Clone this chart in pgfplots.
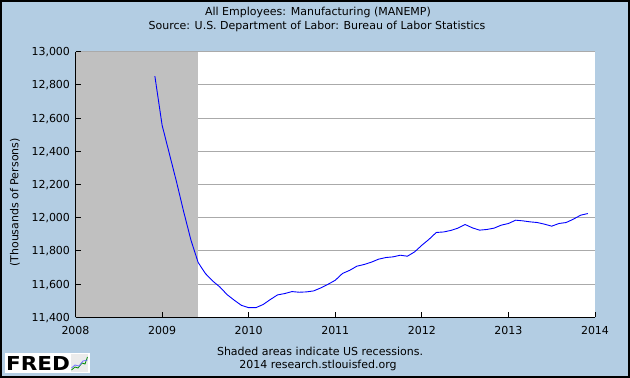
\documentclass[border=0pt]{standalone}
\usepackage{pgfplots}
\pgfplotsset{compat=1.18}
\usepackage{fontspec}
\setmainfont{DejaVu Sans}
\definecolor{bgblue}{RGB}{179,205,227}
\definecolor{recgray}{RGB}{192,192,192}
\definecolor{gridgray}{RGB}{170,170,170}
\pgfdeclarelayer{bgfred}
\pgfsetlayers{bgfred,main}
\pgfplotsset{
  layers/fredlayers/.define layer set={
    bgfred,axis background,axis grid,pre main,main,axis ticks,axis lines,axis tick labels,axis descriptions,axis foreground
  }{
    grid style={/pgfplots/on layer=axis grid},
    tick style={/pgfplots/on layer=axis ticks},
    axis line style={/pgfplots/on layer=axis lines},
    label style={/pgfplots/on layer=axis descriptions},
    legend style={/pgfplots/on layer=axis descriptions},
    title style={/pgfplots/on layer=axis descriptions},
    colorbar style={/pgfplots/on layer=axis descriptions},
    ticklabel style={/pgfplots/on layer=axis tick labels},
    axis background@ style={/pgfplots/on layer=axis background},
    3d box foreground style={/pgfplots/on layer=axis foreground},
  },
}
\begin{document}
\begin{tikzpicture}[every node/.style={font=\fontsize{11bp}{13bp}\selectfont}]
\begin{pgfonlayer}{bgfred}
\fill[bgblue] (0,0) rectangle (630bp,378bp);
\end{pgfonlayer}
\begin{axis}[
  set layers=fredlayers,
  at={(75.5bp,60.7bp)}, anchor=south west,
  scale only axis, width=519.5bp, height=265.6bp,
  xmin=0, xmax=72, ymin=11400, ymax=13000,
  axis background/.style={fill=white},
  axis x line*=bottom, axis y line*=left,
  axis line style={black, line width=1bp},
  xtick={0,12,24,36,48,60,72},
  xticklabels={2008,2009,2010,2011,2012,2013,2014},
  ytick={11400,11600,11800,12000,12200,12400,12600,12800,13000},
  scaled y ticks=false,
  /pgf/number format/1000 sep={,},
  /pgf/number format/assume math mode=true,
  xticklabel style={inner sep=0pt, anchor=north, text depth=0pt, yshift=-9.3bp},
  yticklabel style={inner sep=0pt, anchor=east, text depth=0pt, xshift=-5.3bp},
  tick label style={font=\fontsize{11bp}{13bp}\selectfont},
  tick align=inside, major tick length=5bp,
  tick style={black, line width=1bp},
  ymajorgrids, grid style={gridgray, line width=1bp},
]
\addplot[fill=recgray, draw=none] coordinates {(0,11400) (17,11400) (17,13000) (0,13000)} -- cycle;
\addplot[blue, line width=0.9bp, mark=none] table[x=m, y=v] {
m v
11 12853
12 12558
13 12387
14 12216
15 12035
16 11865
17 11730
18 11664
19 11619
20 11583
21 11537
22 11503
23 11472
24 11458
25 11458
26 11477
27 11507
28 11535
29 11543
30 11555
31 11551
32 11553
33 11559
34 11577
35 11599
36 11623
37 11664
38 11683
39 11708
40 11718
41 11732
42 11750
43 11760
44 11764
45 11774
46 11768
47 11794
48 11834
49 11870
50 11911
51 11914
52 11923
53 11937
54 11959
55 11939
56 11925
57 11929
58 11937
59 11955
60 11965
61 11985
62 11981
63 11975
64 11971
65 11961
66 11949
67 11965
68 11971
69 11991
70 12015
71 12025
};
\end{axis}
\begin{scope}[x=1bp,y=1bp]
\node at (318,366) {All Employees: Manufacturing (MANEMP)};
\node at (317,352) {Source: U.S. Department of Labor: Bureau of Labor Statistics};
\node[rotate=90] at (15,175.5) {(Thousands of Persons)};
\node at (320,26.5) {Shaded areas indicate US recessions.};
\node at (318,12.5) {2014 research.stlouisfed.org};
\fill[white] (4.7,4.7) rectangle (90,25.3);
\node[anchor=west, inner sep=0pt, xscale=1.12, font=\fontsize{19.2bp}{20bp}\selectfont\bfseries] at (6,14.3) {FRED};
\fill[black!8] (70.7,6.3) rectangle (88.3,24);
\draw[green!55!black, line width=0.8bp] (71.5,8) -- (75,11) -- (78,10) -- (82,15) -- (85,14) -- (87.5,21);
\draw[blue!55, line width=0.8bp] (71.5,10) -- (75,13) -- (79,12) -- (83,17) -- (87.5,18);
\draw[black, line width=2bp] (1,1) rectangle (629,377);
\end{scope}
\end{tikzpicture}
\end{document}
